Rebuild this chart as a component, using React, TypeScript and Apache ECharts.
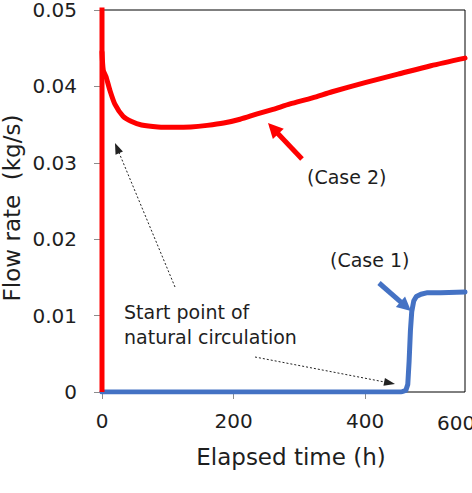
import React, { useEffect, useRef } from "react";
import * as echarts from "echarts";

// Case 2 (red): start-up spike at t = 0, then the natural-circulation curve
const case2SpikeTimes = [0, 0];
const case2SpikeFlow = [0, 0.07];
const case2Times = [0, 2, 6, 12, 20, 32, 45, 60, 85, 110, 135, 160, 185, 210, 236, 260, 286, 320, 350, 400, 450, 500, 552];
const case2Flow = [0.0445, 0.0421, 0.0413, 0.0395, 0.0376, 0.0361, 0.0354, 0.03495, 0.0347, 0.03465, 0.0347, 0.0349, 0.0352, 0.0357, 0.0364, 0.037, 0.0377, 0.0385, 0.0393, 0.0405, 0.0416, 0.0427, 0.0437];
// Case 1 (blue)
const case1Times = [0, 455, 462, 465, 467, 469, 471, 474, 478, 485, 495, 515, 552];
const case1Flow = [0, 0, 0.0002, 0.001, 0.004, 0.008, 0.0105, 0.0119, 0.0125, 0.0128, 0.013, 0.013, 0.0131];

const xTicks = [0, 200, 400];
const yTicks = [0, 0.01, 0.02, 0.03, 0.04, 0.05];

const FONT = "DejaVu Sans";
const TXT = "#1e1e1e";

function arrow(tail: number[], tip: number[], color: string, width: number, headLen: number, headW: number, dash?: number[]) {
  const dx = tip[0] - tail[0];
  const dy = tip[1] - tail[1];
  const len = Math.sqrt(dx * dx + dy * dy);
  const ux = dx / len;
  const uy = dy / len;
  const bx = tip[0] - ux * headLen;
  const by = tip[1] - uy * headLen;
  const px = -uy;
  const py = ux;
  return [
    {
      type: "line",
      shape: { x1: tail[0], y1: tail[1], x2: bx + ux * 1, y2: by + uy * 1 },
      style: { stroke: color, lineWidth: width, lineDash: dash },
    },
    {
      type: "polygon",
      shape: {
        points: [
          [tip[0], tip[1]],
          [bx + px * headW / 2, by + py * headW / 2],
          [bx - px * headW / 2, by - py * headW / 2],
        ],
      },
      style: { fill: color },
    },
  ];
}

export default function App() {
  const ref = useRef<HTMLDivElement>(null);
  useEffect(() => {
    if (!ref.current) return;
    const chart = echarts.init(ref.current, null, { renderer: "svg" });
    chart.setOption({
      animation: false,
      grid: { left: 102, top: 10, right: 7, bottom: 101, show: true, borderColor: "#000", borderWidth: 1, backgroundColor: "transparent" },
      xAxis: {
        type: "value",
        min: 0,
        max: 552,
        interval: 200,
        splitLine: { show: false },
        axisLine: { show: false },
        axisTick: { show: true, length: 7, lineStyle: { color: "#8c8c8c" }, customValues: xTicks },
        axisLabel: { fontFamily: FONT, fontSize: 20, color: TXT, margin: 19, customValues: xTicks },
      },
      yAxis: {
        type: "value",
        min: 0,
        max: 0.05,
        interval: 0.01,
        splitLine: { show: false },
        axisLine: { show: false },
        axisTick: { show: true, length: 8, lineStyle: { color: "#8c8c8c" }, customValues: yTicks },
        axisLabel: { fontFamily: FONT, fontSize: 20, color: TXT, margin: 25, customValues: yTicks, formatter: (v: number) => (v === 0 ? "0" : String(+v.toFixed(2))) },
      },
      series: [
        {
          type: "line",
          data: case1Times.map((t, i) => [t, case1Flow[i]]),
          showSymbol: false,
          lineStyle: { color: "#4472C4", width: 5, join: "round", cap: "round" },
          clip: true,
        },
        {
          type: "line",
          data: case2SpikeTimes.map((t, i) => [t, case2SpikeFlow[i]]),
          showSymbol: false,
          lineStyle: { color: "#FF0000", width: 5 },
          clip: true,
        },
        {
          type: "line",
          data: case2Times.map((t, i) => [t, case2Flow[i]]),
          showSymbol: false,
          smooth: 0.25,
          lineStyle: { color: "#FF0000", width: 5, join: "round", cap: "round" },
          clip: true,
        },
      ],
      graphic: [
        { type: "text", left: 437, top: 413, style: { text: "600", font: `20px "${FONT}"`, fill: TXT } },
        { type: "text", x: 291, y: 457, style: { text: "Elapsed time (h)", font: `23px "${FONT}"`, fill: TXT, align: "center", verticalAlign: "middle" } },
        { type: "text", x: 12, y: 208, rotation: Math.PI / 2, style: { text: "Flow rate  (kg/s)", font: `23px "${FONT}"`, fill: TXT, align: "center", verticalAlign: "middle" } },
        { type: "text", x: 307, y: 177, style: { text: "(Case 2)", font: `19px "${FONT}"`, fill: TXT, verticalAlign: "middle" } },
        { type: "text", x: 330, y: 260, style: { text: "(Case 1)", font: `19px "${FONT}"`, fill: TXT, verticalAlign: "middle" } },
        { type: "text", x: 124, y: 312, style: { text: "Start point of", font: `19px "${FONT}"`, fill: TXT, verticalAlign: "middle" } },
        { type: "text", x: 124, y: 337, style: { text: "natural circulation", font: `19px "${FONT}"`, fill: TXT, verticalAlign: "middle" } },
        ...arrow([302, 159], [268, 123], "#FF0000", 5, 15, 15),
        ...arrow([379, 283], [411, 311], "#4472C4", 5, 14, 14),
        ...arrow([175, 287], [115, 143], "#222", 1, 11, 8, [2, 2]),
        ...arrow([255, 357], [395, 384], "#222", 1, 11, 8, [2, 2]),
      ],
    });
    return () => chart.dispose();
  }, []);
  return <div ref={ref} style={{ width: 472, height: 493, position: "absolute", left: 0, top: 0 }} />;
}
